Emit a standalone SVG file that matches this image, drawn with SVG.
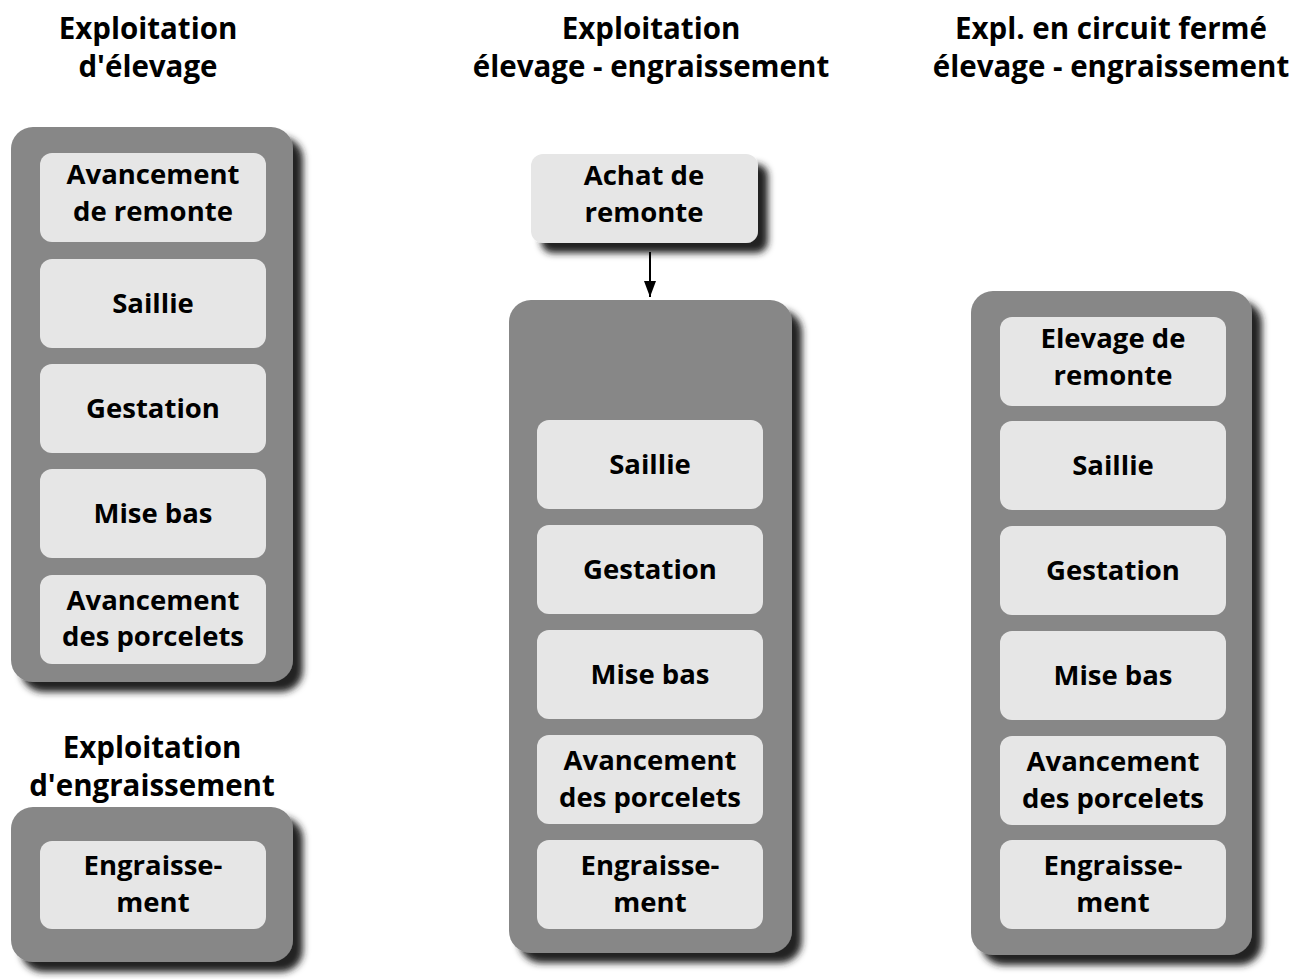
<svg xmlns="http://www.w3.org/2000/svg" width="1297" height="979" viewBox="0 0 1297 979">
<defs>
<filter id="sh" x="-20%" y="-20%" width="150%" height="150%">
<feGaussianBlur in="SourceAlpha" stdDeviation="3.5"/>
<feOffset dx="10" dy="10" result="b"/>
<feFlood flood-color="#222222" flood-opacity="1"/>
<feComposite in2="b" operator="in" result="s"/>
<feMerge><feMergeNode in="s"/><feMergeNode in="SourceGraphic"/></feMerge>
</filter>
<marker id="ah" markerWidth="16" markerHeight="12" refX="16" refY="6" orient="auto" markerUnits="userSpaceOnUse" viewBox="0 0 16 12">
<path d="M0,0 L16,6 L0,12 Z" fill="#000"/>
</marker>
<style>
.cont{fill:#878787;filter:url(#sh)}
.box{fill:#e6e6e6}
.boxs{fill:#e6e6e6;filter:url(#sh)}
text{font-family:"Open Sans","Noto Sans","DejaVu Sans",sans-serif;font-weight:bold;font-size:27.5px;fill:#000;text-anchor:middle}
.t{font-size:29.5px}
</style>
</defs>
<rect width="1297" height="979" fill="#fff"/>

<g id="titles">
<text class="t" x="148" y="39">Exploitation</text>
<text class="t" x="148" y="77">d'élevage</text>
<text class="t" x="651" y="39">Exploitation</text>
<text class="t" x="651" y="77">élevage - engraissement</text>
<text class="t" x="1111" y="39">Expl. en circuit fermé</text>
<text class="t" x="1111" y="77">élevage - engraissement</text>
<text class="t" x="152" y="758">Exploitation</text>
<text class="t" x="152" y="796">d'engraissement</text>
</g>

<g id="container-elevage">
<rect class="cont" x="11" y="127" width="282" height="555" rx="22"/>
</g>
<g id="l-avancement-remonte"><rect class="box" x="40" y="153" width="226" height="89" rx="12"/><text x="153" y="184">Avancement</text><text x="153" y="221">de remonte</text></g>
<g id="l-saillie"><rect class="box" x="40" y="259" width="226" height="89" rx="12"/><text x="153" y="313">Saillie</text></g>
<g id="l-gestation"><rect class="box" x="40" y="364" width="226" height="89" rx="12"/><text x="153" y="418">Gestation</text></g>
<g id="l-misebas"><rect class="box" x="40" y="469" width="226" height="89" rx="12"/><text x="153" y="523">Mise bas</text></g>
<g id="l-avancement-porcelets"><rect class="box" x="40" y="575" width="226" height="89" rx="12"/><text x="153" y="610">Avancement</text><text x="153" y="646">des porcelets</text></g>

<g id="container-engraissement">
<rect class="cont" x="11" y="807" width="282" height="155" rx="22"/>
</g>
<g id="l-engraissement"><rect class="box" x="40" y="841" width="226" height="88" rx="12"/><text x="153" y="875">Engraisse-</text><text x="153" y="912">ment</text></g>

<g id="m-achat"><rect class="boxs" x="531" y="154" width="227" height="89" rx="12"/><text x="644" y="185">Achat de</text><text x="644" y="222">remonte</text></g>

<g id="container-mixte">
<rect class="cont" x="509" y="300" width="283" height="653" rx="22"/>
</g>
<g id="m-saillie"><rect class="box" x="537" y="420" width="226" height="89" rx="12"/><text x="650" y="474">Saillie</text></g>
<g id="m-gestation"><rect class="box" x="537" y="525" width="226" height="89" rx="12"/><text x="650" y="579">Gestation</text></g>
<g id="m-misebas"><rect class="box" x="537" y="630" width="226" height="89" rx="12"/><text x="650" y="684">Mise bas</text></g>
<g id="m-avancement"><rect class="box" x="537" y="735" width="226" height="89" rx="12"/><text x="650" y="770">Avancement</text><text x="650" y="807">des porcelets</text></g>
<g id="m-engraissement"><rect class="box" x="537" y="840" width="226" height="89" rx="12"/><text x="650" y="875">Engraisse-</text><text x="650" y="912">ment</text></g>

<g id="container-ferme">
<rect class="cont" x="971" y="291" width="281" height="664" rx="22"/>
</g>
<g id="r-elevage"><rect class="box" x="1000" y="317" width="226" height="89" rx="12"/><text x="1113" y="348">Elevage de</text><text x="1113" y="385">remonte</text></g>
<g id="r-saillie"><rect class="box" x="1000" y="421" width="226" height="89" rx="12"/><text x="1113" y="475">Saillie</text></g>
<g id="r-gestation"><rect class="box" x="1000" y="526" width="226" height="89" rx="12"/><text x="1113" y="580">Gestation</text></g>
<g id="r-misebas"><rect class="box" x="1000" y="631" width="226" height="89" rx="12"/><text x="1113" y="685">Mise bas</text></g>
<g id="r-avancement"><rect class="box" x="1000" y="736" width="226" height="89" rx="12"/><text x="1113" y="771">Avancement</text><text x="1113" y="808">des porcelets</text></g>
<g id="r-engraissement"><rect class="box" x="1000" y="840" width="226" height="89" rx="12"/><text x="1113" y="875">Engraisse-</text><text x="1113" y="912">ment</text></g>

<g id="connectors">
<line x1="650" y1="252" x2="650" y2="297" stroke="#000" stroke-width="2" marker-end="url(#ah)"/>
</g>
</svg>
